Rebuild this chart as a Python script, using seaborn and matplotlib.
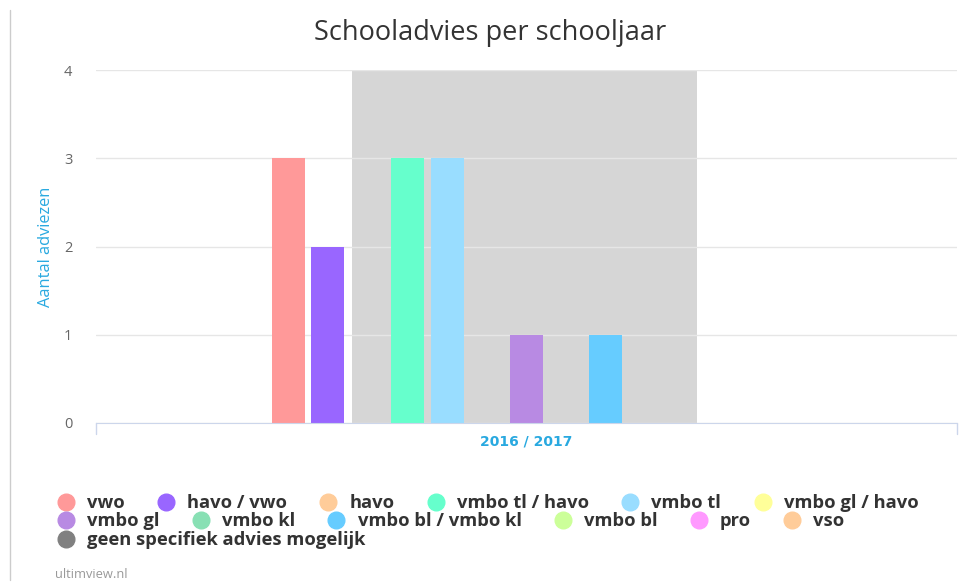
import pandas as pd
import matplotlib.pyplot as plt
import seaborn as sns
from matplotlib.lines import Line2D

# data
years = ['2016 / 2017']
adviezen = ['vwo', 'havo / vwo', 'havo', 'vmbo tl / havo', 'vmbo tl', 'vmbo gl / havo',
            'vmbo gl', 'vmbo kl', 'vmbo bl / vmbo kl', 'vmbo bl', 'pro', 'vso',
            'geen specifiek advies mogelijk']
aantal = [3, 2, 0, 3, 3, 0, 1, 0, 1, 0, 0, 0, 0]
kleuren = ['#ff9999', '#9966ff', '#ffcc99', '#66ffcc', '#99ddff', '#ffff99',
           '#b88ae3', '#88e0b4', '#66ccff', '#ccff99', '#ff99ff', '#ffcc99', '#808080']

df = pd.DataFrame({'jaar': years * len(adviezen), 'advies': adviezen, 'aantal': aantal})

sns.set_style('white')
plt.rcParams['font.family'] = ['Open Sans', 'DejaVu Sans']

fig = plt.figure(figsize=(9.62, 5.82), dpi=100)
ax = fig.add_axes([0.0998, 0.2732, 0.895, 0.6065])

# highlighted band behind the group
ax.axvspan(-0.203, 0.198, color='#d6d6d6', zorder=0.5, lw=0)

sns.barplot(data=df, x='jaar', y='aantal', hue='advies', hue_order=adviezen,
            palette=kleuren, width=0.6, gap=0.17, ax=ax, legend=False, zorder=2,
            saturation=1, linewidth=0, edgecolor='none')

ax.set_xlim(-0.5, 0.5)
ax.set_ylim(0, 4)
ax.set_yticks([0, 1, 2, 3, 4])
ax.set_axisbelow('line')
ax.yaxis.grid(True, color='#e6e6e6', lw=1)
for s in ['top', 'right', 'left']:
    ax.spines[s].set_visible(False)
ax.spines['bottom'].set_color('#ccd6eb')
ax.spines['bottom'].set_zorder(3)
ax.tick_params(axis='y', length=0, labelsize=10.5, labelcolor='#666666', pad=17)
ax.tick_params(axis='x', length=0, labelcolor='#29a9e0', pad=8)
for lbl in ax.get_xticklabels():
    lbl.set_fontweight('bold')
    lbl.set_family('DejaVu Sans')
    lbl.set_fontsize(10)
# end ticks of the category axis
for xv in [-0.5, 0.5]:
    ax.plot([xv, xv], [0, -0.12], color='#ccd6eb', lw=1, clip_on=False, zorder=3)
ax.set_xlabel('')
ax.set_ylabel('Aantal adviezen', color='#29a9e0', fontsize=11.75, labelpad=7)

fig.text(0.51, 1 - 33 / 582, 'Schooladvies per schooljaar', ha='center', va='center',
         fontsize=19.5, color='#333333')

# legend in rows like the original
def handle(c):
    return Line2D([], [], marker='o', ls='', markersize=12, markerfacecolor=c, markeredgecolor=c)

rijen = [adviezen[:6], adviezen[6:12], adviezen[12:]]
for i, rij in enumerate(rijen):
    hs = [handle(kleuren[adviezen.index(a)]) for a in rij]
    yc = 1 - (503 + i * 18.5) / 582
    fig.legend(hs, rij, loc='center left', bbox_to_anchor=(0.061, yc),
               ncol=len(rij), frameon=False, handletextpad=0.75,
               columnspacing=1.85, handlelength=0.8, borderpad=0, labelspacing=0,
               borderaxespad=0, prop={'weight': 'bold', 'size': 13.2},
               labelcolor='#333333')

fig.add_artist(Line2D([0.0105, 0.0105], [0.003, 0.983], color='#cccccc', lw=1))
fig.text(0.057, 1 - 575 / 582, 'ultimview.nl', fontsize=9.3, color='#999999', va='center')

fig.savefig('out.png', dpi=100)
